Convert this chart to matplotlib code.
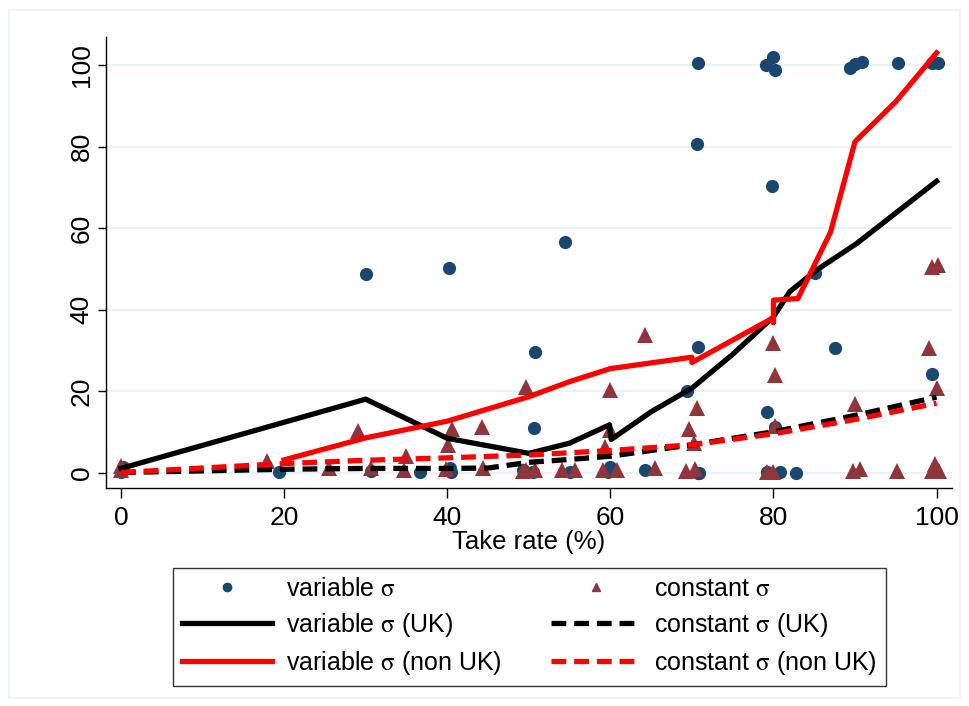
import matplotlib
matplotlib.use("Agg")
import matplotlib.pyplot as plt
from matplotlib.lines import Line2D
from matplotlib.patches import Rectangle

# scatter: variable sigma (circles)
var_x = [0, 0.2, 19.4, 30, 30.7, 36.7, 40.2, 40.3, 40.5, 49.3, 50.5, 50.7, 50.8,
         54.5, 55, 59.7, 60, 64.2, 69.4, 70.6, 70.7, 70.9, 70.8, 70.8, 79.1, 79.2,
         79.2, 79.8, 79.9, 80.2, 80.2, 80.8, 82.8, 85.1, 87.6, 89.4, 90, 90.8,
         95.3, 99.4, 99.4, 100.2]
var_y = [0.2, 1.4, 0.2, 48.7, 0.4, 0.2, 50.3, 1.0, 0.2, 0.6, 0.2, 10.9, 29.5,
         56.6, 0.2, 0.2, 1.4, 0.6, 20.1, 80.6, 0.0, 0.0, 100.4, 30.7, 100.0, 14.9,
         0.2, 70.3, 101.9, 98.9, 11.2, 0.2, 0.0, 48.9, 30.5, 99.2, 100.2, 100.7,
         100.6, 100.4, 24.3, 100.4]

# scatter: constant sigma (triangles)
con_x = [0, 0, 17.9, 25.5, 29.1, 30.7, 34.7, 34.9, 39.8, 40.1, 40.6, 44.3, 44.4,
         49.3, 49.6, 49.7, 50.8, 54.1, 55.7, 59.1, 59.3, 59.9, 60, 60.8, 64.3,
         65.5, 69.3, 69.6, 70.2, 70.4, 70.6, 79.2, 80, 80, 80.2, 80.2, 90, 89.7,
         90.6, 95.2, 99.1, 99.4, 99.8, 100.3, 100, 99.5, 100.2]
con_y = [0.6, 1.5, 2.9, 1.2, 10.2, 1.0, 0.5, 4.0, 0.8, 6.7, 10.8, 11.2, 1.2,
         0.3, 20.9, 0.6, 0.6, 0.6, 0.6, 0.6, 6.3, 20.2, 10.4, 0.6, 33.7,
         1.0, 0.3, 10.8, 7.2, 0.8, 15.9, 0.2, 0.2, 31.7, 23.9, 11.5, 16.7, 0.4,
         0.8, 0.4, 30.5, 0.4, 2.1, 0.4, 20.7, 50.4, 50.9]

# fitted lines
var_uk_x = [0, 30, 40, 50, 55, 59.9, 60.1, 65, 70, 75, 80, 82, 85.3, 90.2, 100]
var_uk_y = [1.0, 18.0, 8.4, 4.7, 7.2, 11.7, 8.1, 14.9, 20.7, 29.0, 38.2, 44.4, 49.7, 56.2, 71.5]

var_nuk_x = [20, 30, 40, 50, 55, 60, 70, 70, 80, 80, 80, 83, 87, 90, 95, 100]
var_nuk_y = [3.1, 8.5, 12.6, 18.6, 22.3, 25.5, 28.3, 27.0, 38.0, 36.8, 42.3, 42.7, 59.0, 81.2, 91.0, 103.0]

con_uk_x = [0, 20, 30, 40, 45, 50, 55, 60, 70, 80, 90, 100]
con_uk_y = [0.0, 0.8, 1.0, 1.0, 1.1, 2.5, 3.2, 4.0, 6.8, 10.0, 14.0, 18.5]

con_nuk_x = [0, 20, 30, 40, 50, 60, 70, 80, 90, 100]
con_nuk_y = [0.0, 2.2, 3.0, 3.6, 4.3, 5.4, 6.8, 9.5, 13.0, 17.0]

x_ticks = [0, 20, 40, 60, 80, 100]
y_ticks = [0, 20, 40, 60, 80, 100]

plt.rcParams["font.family"] = ["Liberation Sans", "DejaVu Sans"]
plt.rcParams["mathtext.fontset"] = "stix"

navy = "#1a476f"
maroon = "#90353b"

fig = plt.figure(figsize=(9.69, 7.06), dpi=100)
fig.patches.append(Rectangle((0.009, 0.012), 0.982, 0.974, transform=fig.transFigure,
                             fill=False, edgecolor="#eef3f5", linewidth=1.2))
ax = fig.add_axes([0.1094, 0.3088, 0.8731, 0.6388])

for v in y_ticks:
    ax.axhline(v, color="#eaf2f3", linewidth=1.5, zorder=0)

ax.plot(var_x, var_y, "o", color=navy, markersize=9.5, markeredgewidth=0, zorder=2)
ax.plot(con_x, con_y, "^", color=maroon, markersize=11, markeredgewidth=0, zorder=2)

lw = 3.8
dash = (2.8, 1.5)
ax.plot(var_uk_x, var_uk_y, color="black", linewidth=lw, zorder=3)
ax.plot(var_nuk_x, var_nuk_y, color="#ff0000", linewidth=lw, zorder=3)
ax.plot(con_uk_x, con_uk_y, color="black", linewidth=lw, dashes=dash, zorder=3)
ax.plot(con_nuk_x, con_nuk_y, color="#ff0000", linewidth=lw, dashes=dash, zorder=3)

ax.set_xlim(-1.84, 101.9)
ax.set_ylim(-3.8, 106.9)
ax.set_xticks(x_ticks)
ax.set_yticks(y_ticks)
ax.set_yticklabels([str(v) for v in y_ticks], rotation=90, va="center")
ax.tick_params(labelsize=19, width=1, color="black")
ax.tick_params(axis="x", length=7, pad=6)
ax.tick_params(axis="y", length=6, pad=3)
ax.set_xlabel("Take rate (%)", fontsize=18.5, labelpad=0)

for s in ["top", "right"]:
    ax.spines[s].set_visible(False)
for s in ["left", "bottom"]:
    ax.spines[s].set_linewidth(1.0)

handles = [
    Line2D([], [], marker="o", linestyle="none", color=navy, markersize=6),
    Line2D([], [], color="black", linewidth=lw),
    Line2D([], [], color="#ff0000", linewidth=lw),
    Line2D([], [], marker="^", linestyle="none", color=maroon, markersize=6),
    Line2D([], [], color="black", linewidth=lw, dashes=dash),
    Line2D([], [], color="#ff0000", linewidth=lw, dashes=dash),
]
labels = [
    r"variable $\mathrm{\sigma}$", r"variable $\mathrm{\sigma}$ (UK)",
    r"variable $\mathrm{\sigma}$ (non UK)",
    r"constant $\mathrm{\sigma}$", r"constant $\mathrm{\sigma}$ (UK)",
    r"constant $\mathrm{\sigma}$ (non UK)",
]
leg = fig.legend(handles, labels, ncol=2, loc="center",
                 bbox_to_anchor=(0.166, 0.028, 0.761, 0.1675), mode="expand",
                 fontsize=18, handlelength=3.6, handletextpad=0.55, labelspacing=0.4,
                 borderpad=0.35, columnspacing=1.5, fancybox=False, frameon=True)
leg.get_frame().set_edgecolor("black")
leg.get_frame().set_linewidth(1.0)

fig.savefig("out.png", dpi=100)
